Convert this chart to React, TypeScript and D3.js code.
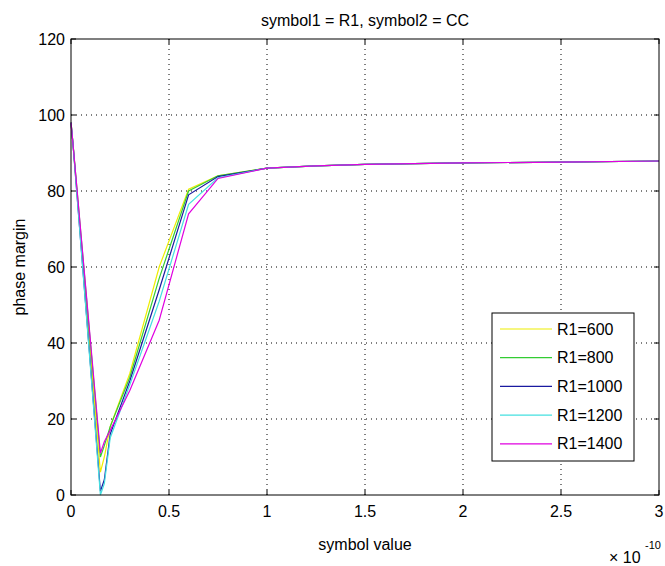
import React from "react";
import * as d3 from "d3";

// symbol value (x 1e-10) sample points shared by every curve
const xValues = [0, 0.01, 0.15, 0.17, 0.2, 0.3, 0.45, 0.6, 0.75, 1.0, 1.25, 1.5, 2.0, 2.5, 3.0];

// phase margin per R1 value
const r1_600 = [98, 92.5, 6, 10, 18, 32, 60, 80.5, 84, 86, 86.6, 87, 87.4, 87.6, 87.9];
const r1_800 = [98, 92.5, 10, 13, 18, 31, 57, 80, 84, 86, 86.6, 87, 87.4, 87.6, 87.9];
const r1_1000 = [98, 92.5, 1, 4, 16, 30, 54, 79, 83.8, 86, 86.6, 87, 87.4, 87.6, 87.9];
const r1_1200 = [98, 92.5, 0, 3, 15, 29, 51, 76.5, 83.5, 86, 86.6, 87, 87.4, 87.6, 87.9];
const r1_1400 = [98, 92.5, 11, 14, 17, 27.5, 46, 74, 83.3, 86, 86.6, 87, 87.4, 87.6, 87.9];

const seriesNames = ["R1=600", "R1=800", "R1=1000", "R1=1200", "R1=1400"];
const seriesValues = [r1_600, r1_800, r1_1000, r1_1200, r1_1400];
const seriesColors = ["#eeee00", "#33cc33", "#1a1aa0", "#44e0e0", "#e000e0"];

const xTicks = [0, 0.5, 1, 1.5, 2, 2.5, 3];
const yTicks = [0, 20, 40, 60, 80, 100, 120];

const W = 665;
const H = 566;
const margin = { left: 71, right: 6, top: 39, bottom: 71 };
const font = "'Liberation Sans', Arial, sans-serif";
const fs = 16;

export default function App() {
  const x = d3.scaleLinear().domain([0, 3]).range([margin.left, W - margin.right]);
  const y = d3.scaleLinear().domain([0, 120]).range([H - margin.bottom, margin.top]);
  const x0 = x(0), x1 = x(3), y0 = y(0), y1 = y(120);

  const line = d3
    .line<number>()
    .x((_, i) => x(xValues[i]))
    .y((d) => y(d));

  const legend = { x: 492, y: 313, w: 142, h: 148, row: 28.7 };

  return (
    <svg
      width={W}
      height={H}
      style={{ position: "absolute", left: 0, top: 0, background: "#fff" }}
      fontFamily={font}
    >
      <rect x={0} y={0} width={W} height={H} fill="#fff" />

      {/* grid */}
      {xTicks.slice(1, -1).map((t) => (
        <line key={"gx" + t} x1={x(t)} x2={x(t)} y1={y0} y2={y1}
          stroke="#000" strokeWidth={1} strokeDasharray="1,4" />
      ))}
      {yTicks.slice(1, -1).map((t) => (
        <line key={"gy" + t} x1={x0} x2={x1} y1={y(t)} y2={y(t)}
          stroke="#000" strokeWidth={1} strokeDasharray="1,4" />
      ))}

      {/* curves */}
      {seriesValues.map((vals, i) => (
        <path key={seriesNames[i]} d={line(vals) || ""} fill="none"
          stroke={seriesColors[i]} strokeWidth={1.2} />
      ))}

      {/* box and ticks */}
      <rect x={x0} y={y1} width={x1 - x0} height={y0 - y1} fill="none" stroke="#000" strokeWidth={1} />
      {xTicks.map((t) => (
        <g key={"tx" + t}>
          <line x1={x(t)} x2={x(t)} y1={y0} y2={y0 - 5} stroke="#000" />
          <line x1={x(t)} x2={x(t)} y1={y1} y2={y1 + 5} stroke="#000" />
          <text x={x(t)} y={y0 + 22} textAnchor="middle" fontSize={fs} fill="#000">{t}</text>
        </g>
      ))}
      {yTicks.map((t) => (
        <g key={"ty" + t}>
          <line x1={x0} x2={x0 + 5} y1={y(t)} y2={y(t)} stroke="#000" />
          <line x1={x1} x2={x1 - 5} y1={y(t)} y2={y(t)} stroke="#000" />
          <text x={x0 - 6} y={y(t) + 5.5} textAnchor="end" fontSize={fs} fill="#000">{t}</text>
        </g>
      ))}

      {/* labels */}
      <text x={(x0 + x1) / 2} y={26} textAnchor="middle" fontSize={fs} fill="#000">
        symbol1 = R1, symbol2 = CC
      </text>
      <text x={(x0 + x1) / 2} y={550} textAnchor="middle" fontSize={fs} fill="#000">
        symbol value
      </text>
      <text transform={`translate(25, ${(y0 + y1) / 2}) rotate(-90)`} textAnchor="middle"
        fontSize={fs} fill="#000">
        phase margin
      </text>
      <text x={609} y={563} fontSize={fs} fill="#000">× 10</text>
      <text x={645} y={549} fontSize={11} fill="#000">-10</text>

      {/* legend */}
      <rect x={legend.x} y={legend.y} width={legend.w} height={legend.h} fill="#fff" stroke="#000" />
      {seriesNames.map((name, i) => {
        const ly = legend.y + 16 + i * legend.row;
        return (
          <g key={"lg" + name}>
            <line x1={500} x2={552} y1={ly} y2={ly} stroke={seriesColors[i]} strokeWidth={1.2} />
            <text x={557} y={ly + 5.5} fontSize={fs} fill="#000">{name}</text>
          </g>
        );
      })}
    </svg>
  );
}
